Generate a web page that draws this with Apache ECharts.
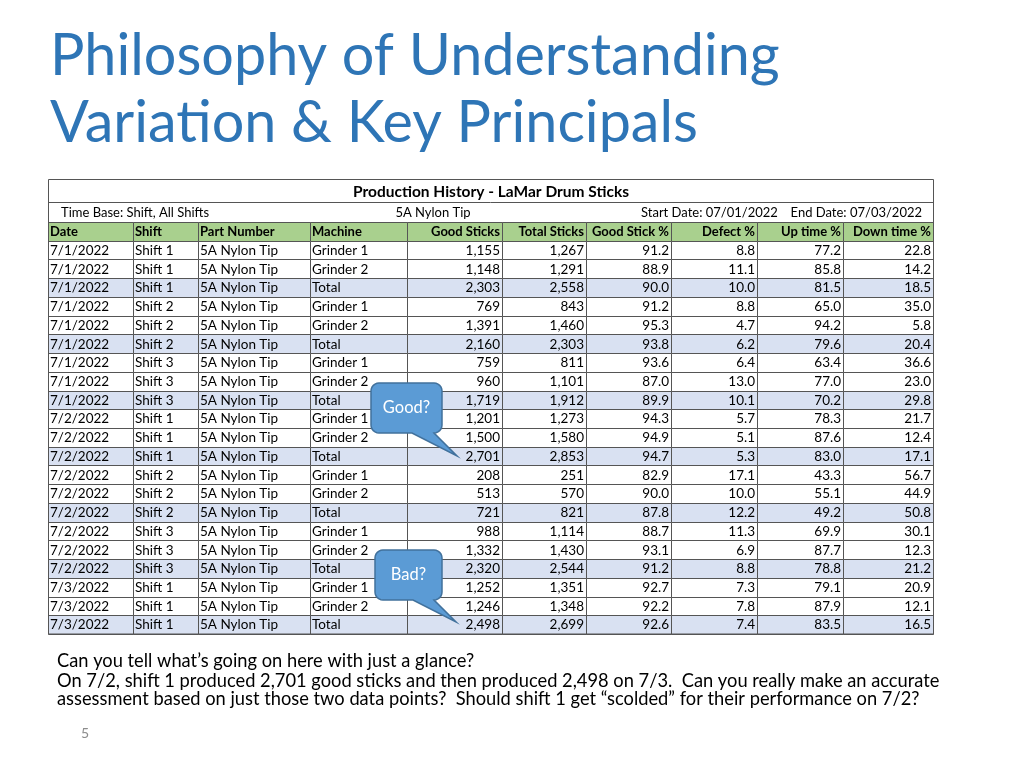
<!DOCTYPE html>
<html>
<head>
<meta charset="utf-8">
<script src="https://cdn.jsdelivr.net/npm/echarts@6/dist/echarts.min.js"></script>
<style>
html, body { margin: 0; padding: 0; background: #fff; }
#chart { width: 1024px; height: 768px; }
</style>
</head>
<body>
<div id="chart"></div>
<script>
// table data
var columns = ['Date', 'Shift', 'Part Number', 'Machine', 'Good Sticks', 'Total Sticks', 'Good Stick %', 'Defect %', 'Up time %', 'Down time %'];
var dates = ['7/1/2022', '7/1/2022', '7/1/2022', '7/1/2022', '7/1/2022', '7/1/2022', '7/1/2022', '7/1/2022', '7/1/2022',
  '7/2/2022', '7/2/2022', '7/2/2022', '7/2/2022', '7/2/2022', '7/2/2022', '7/2/2022', '7/2/2022', '7/2/2022',
  '7/3/2022', '7/3/2022', '7/3/2022'];
var shifts = ['Shift 1', 'Shift 1', 'Shift 1', 'Shift 2', 'Shift 2', 'Shift 2', 'Shift 3', 'Shift 3', 'Shift 3',
  'Shift 1', 'Shift 1', 'Shift 1', 'Shift 2', 'Shift 2', 'Shift 2', 'Shift 3', 'Shift 3', 'Shift 3',
  'Shift 1', 'Shift 1', 'Shift 1'];
var parts = ['5A Nylon Tip', '5A Nylon Tip', '5A Nylon Tip', '5A Nylon Tip', '5A Nylon Tip', '5A Nylon Tip', '5A Nylon Tip',
  '5A Nylon Tip', '5A Nylon Tip', '5A Nylon Tip', '5A Nylon Tip', '5A Nylon Tip', '5A Nylon Tip', '5A Nylon Tip',
  '5A Nylon Tip', '5A Nylon Tip', '5A Nylon Tip', '5A Nylon Tip', '5A Nylon Tip', '5A Nylon Tip', '5A Nylon Tip'];
var machines = ['Grinder 1', 'Grinder 2', 'Total', 'Grinder 1', 'Grinder 2', 'Total', 'Grinder 1', 'Grinder 2', 'Total',
  'Grinder 1', 'Grinder 2', 'Total', 'Grinder 1', 'Grinder 2', 'Total', 'Grinder 1', 'Grinder 2', 'Total',
  'Grinder 1', 'Grinder 2', 'Total'];
var goodSticks = [1155, 1148, 2303, 769, 1391, 2160, 759, 960, 1719, 1201, 1500, 2701, 208, 513, 721, 988, 1332, 2320, 1252, 1246, 2498];
var totalSticks = [1267, 1291, 2558, 843, 1460, 2303, 811, 1101, 1912, 1273, 1580, 2853, 251, 570, 821, 1114, 1430, 2544, 1351, 1348, 2699];
var goodPct = [91.2, 88.9, 90.0, 91.2, 95.3, 93.8, 93.6, 87.0, 89.9, 94.3, 94.9, 94.7, 82.9, 90.0, 87.8, 88.7, 93.1, 91.2, 92.7, 92.2, 92.6];
var defectPct = [8.8, 11.1, 10.0, 8.8, 4.7, 6.2, 6.4, 13.0, 10.1, 5.7, 5.1, 5.3, 17.1, 10.0, 12.2, 11.3, 6.9, 8.8, 7.3, 7.8, 7.4];
var upPct = [77.2, 85.8, 81.5, 65.0, 94.2, 79.6, 63.4, 77.0, 70.2, 78.3, 87.6, 83.0, 43.3, 55.1, 49.2, 69.9, 87.7, 78.8, 79.1, 87.9, 83.5];
var downPct = [22.8, 14.2, 18.5, 35.0, 5.8, 20.4, 36.6, 23.0, 29.8, 21.7, 12.4, 17.1, 56.7, 44.9, 50.8, 30.1, 12.3, 21.2, 20.9, 12.1, 16.5];

// column widths (layout)
var colWidths = [85, 65, 112, 97, 95, 84, 85, 86, 86, 90];
var colEdges = [0];
colWidths.forEach(function (w, i) { colEdges.push(colEdges[i] + w); });

var font = 'Lato, "Open Sans", sans-serif';
var lineColor = '#555';

function fmtInt(v) {
  return v.toLocaleString('en-US');
}

function cellText(c, r) {
  if (r === 0) return columns[c];
  var i = r - 1;
  switch (c) {
    case 0: return dates[i];
    case 1: return shifts[i];
    case 2: return parts[i];
    case 3: return machines[i];
    case 4: return fmtInt(goodSticks[i]);
    case 5: return fmtInt(totalSticks[i]);
    case 6: return goodPct[i].toFixed(1);
    case 7: return defectPct[i].toFixed(1);
    case 8: return upPct[i].toFixed(1);
    default: return downPct[i].toFixed(1);
  }
}

// speech bubble outline: rounded box + tail on the bottom edge
function bubble(x0, y0, x1, y1, rad, tailL, tailR, tip) {
  var pts = [];
  function arc(cx, cy, a0) {
    for (var k = 0; k <= 6; k++) {
      var a = (a0 + k * 15) * Math.PI / 180;
      pts.push([cx + rad * Math.cos(a), cy + rad * Math.sin(a)]);
    }
  }
  arc(x0 + rad, y0 + rad, 180);
  arc(x1 - rad, y0 + rad, 270);
  arc(x1 - rad, y1 - rad, 0);
  pts.push([tailR, y1], tip, [tailL, y1]);
  arc(x0 + rad, y1 - rad, 90);
  return pts;
}

var rowNames = ['header'];
dates.forEach(function (d, i) { rowNames.push(String(i + 1)); });

var cells = [];
rowNames.forEach(function (name, r) {
  columns.forEach(function (col, c) { cells.push([c, r]); });
});

var myChart = echarts.init(document.getElementById('chart'));

var option = {
  backgroundColor: '#fff',
  animation: false,
  grid: { left: 48, top: 222, width: 885, height: 412 },
  xAxis: { type: 'value', min: 0, max: colEdges[colEdges.length - 1], show: false },
  yAxis: { type: 'category', data: rowNames, inverse: true, show: false },
  graphic: [
    // title
    {
      type: 'text', x: 50, y: 23,
      style: { text: 'Philosophy of Understanding\nVariation & Key Principals', fill: '#2E75B6', font: '57.5px ' + font, lineHeight: 67 }
    },
    // table frame and top two rows
    { type: 'rect', shape: { x: 48.5, y: 179.5, width: 885, height: 454.5 }, style: { fill: 'none', stroke: lineColor, lineWidth: 1 }, z: 10 },
    { type: 'line', shape: { x1: 48, y1: 202.5, x2: 933, y2: 202.5 }, style: { stroke: lineColor, lineWidth: 1 }, z: 10 },
    { type: 'text', x: 491, y: 192, style: { text: 'Production History - LaMar Drum Sticks', fill: '#000', font: 'bold 15.5px ' + font, align: 'center', verticalAlign: 'middle' } },
    { type: 'text', x: 61, y: 212.5, style: { text: 'Time Base: Shift, All Shifts', fill: '#000', font: '13px ' + font, verticalAlign: 'middle' } },
    { type: 'text', x: 433, y: 212.5, style: { text: '5A Nylon Tip', fill: '#000', font: '13px ' + font, align: 'center', verticalAlign: 'middle' } },
    { type: 'text', x: 641, y: 212.5, style: { text: 'Start Date: 07/01/2022', fill: '#000', font: '13px ' + font, verticalAlign: 'middle' } },
    { type: 'text', x: 922, y: 212.5, style: { text: 'End Date: 07/03/2022', fill: '#000', font: '13px ' + font, align: 'right', verticalAlign: 'middle' } },
    // callouts
    {
      type: 'polygon', z: 20,
      shape: { points: bubble(371, 383, 442, 433, 8, 412, 434, [457, 456]) },
      style: { fill: '#5B9BD5', stroke: '#41719C', lineWidth: 1.5 }
    },
    { type: 'text', z: 21, x: 406.5, y: 408, style: { text: 'Good?', fill: '#fff', font: '16.5px ' + font, align: 'center', verticalAlign: 'middle' } },
    {
      type: 'polygon', z: 20,
      shape: { points: bubble(375, 550, 442, 600, 8, 413, 434, [456, 622]) },
      style: { fill: '#5B9BD5', stroke: '#41719C', lineWidth: 1.5 }
    },
    { type: 'text', z: 21, x: 408.5, y: 575, style: { text: 'Bad?', fill: '#fff', font: '16.5px ' + font, align: 'center', verticalAlign: 'middle' } },
    // notes under the table
    {
      type: 'text', x: 57, y: 661,
      style: { text: 'Can you tell what\u2019s going on here with just a glance?', fill: '#000', font: '18.3px ' + font, verticalAlign: 'middle' }
    },
    {
      type: 'text', x: 57, y: 672,
      style: {
        text: 'On 7/2, shift 1 produced 2,701 good sticks and then produced 2,498 on 7/3.  Can you really make an accurate\nassessment based on just those two data points?  Should shift 1 get \u201cscolded\u201d for their performance on 7/2?',
        fill: '#000', font: '18.3px ' + font, lineHeight: 18
      }
    },
    { type: 'text', x: 85, y: 733, style: { text: '5', fill: '#8c8c8c', font: '14px ' + font, align: 'center', verticalAlign: 'middle' } }
  ],
  series: [
    {
      type: 'custom',
      data: cells,
      clip: false,
      renderItem: function (params, api) {
        var c = api.value(0);
        var r = api.value(1);
        var p0 = api.coord([colEdges[c], r]);
        var p1 = api.coord([colEdges[c + 1], r]);
        var h = api.size([0, 1])[1];
        var top = p0[1] - h / 2;
        var isTotal = r > 0 && machines[r - 1] === 'Total';
        var fill = r === 0 ? '#A9D08E' : (isTotal ? '#D9E1F2' : '#fff');
        var rightAlign = c >= 4;
        return {
          type: 'group',
          children: [
            {
              type: 'rect',
              shape: { x: Math.round(p0[0]) + 0.5, y: Math.round(top) + 0.5, width: Math.round(p1[0] - p0[0]), height: Math.round(h) },
              style: { fill: fill, stroke: lineColor, lineWidth: 1 }
            },
            {
              type: 'text',
              x: rightAlign ? p1[0] - 2 : p0[0] + 2,
              y: p0[1] + 0.5,
              style: {
                text: cellText(c, r),
                fill: '#000',
                font: r === 0 ? 'bold 13px ' + font : '13.5px ' + font,
                align: rightAlign ? 'right' : 'left',
                verticalAlign: 'middle'
              }
            }
          ]
        };
      }
    }
  ]
};

myChart.setOption(option);
</script>
</body>
</html>
